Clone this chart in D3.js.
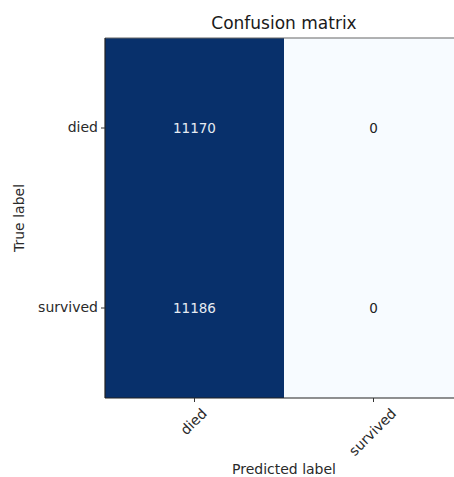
<!DOCTYPE html>
<html>
<head>
<meta charset="utf-8">
<script src="https://cdn.jsdelivr.net/npm/d3@7"></script>
<style>
  body { margin: 0; background: #fff; overflow: hidden; }
  text { font-family: "DejaVu Sans", sans-serif; }
</style>
</head>
<body>
<div id="chart"></div>
<script>
// confusion matrix data
const trueLabels = ["died", "survived"];
const predLabels = ["died", "survived"];
const row_died = [11170, 0];
const row_survived = [11186, 0];

const matrix = [row_died, row_survived];

const margin = { top: 38, left: 105 },
  width = 358,
  height = 360;

const svg = d3.select("#chart")
  .append("svg")
  .attr("width", 454)
  .attr("height", 477);

const g = svg.append("g")
  .attr("transform", `translate(${margin.left},${margin.top})`);

const x = d3.scaleBand().domain(predLabels).range([0, width]);
const y = d3.scaleBand().domain(trueLabels).range([0, height]);

const maxVal = d3.max(matrix.flat());
const color = d3.scaleSequential(d3.interpolateBlues).domain([0, maxVal]);

const cells = [];
trueLabels.forEach((t, i) => {
  predLabels.forEach((p, j) => {
    cells.push({ t: t, p: p, v: matrix[i][j] });
  });
});

g.selectAll(".cell")
  .data(cells)
  .enter()
  .append("rect")
  .attr("class", "cell")
  .attr("x", d => x(d.p))
  .attr("y", d => y(d.t))
  .attr("width", x.bandwidth())
  .attr("height", y.bandwidth())
  .attr("fill", d => d.v === 0 ? "#f7fbff" : (d.v >= maxVal * 0.99 ? "#08306b" : color(d.v)));

g.selectAll(".val")
  .data(cells)
  .enter()
  .append("text")
  .attr("class", "val")
  .attr("x", d => x(d.p) + x.bandwidth() / 2)
  .attr("y", d => y(d.t) + y.bandwidth() / 2)
  .attr("dy", "0.35em")
  .attr("text-anchor", "middle")
  .attr("font-size", "13.5px")
  .attr("fill", d => d.v > maxVal / 2 ? "#e6ebf2" : "#222")
  .text(d => d.v);

// frame
g.append("line")
  .attr("x1", 0).attr("x2", width).attr("y1", 0).attr("y2", 0)
  .attr("stroke", "#666").attr("stroke-width", 1.2);
g.append("line")
  .attr("x1", 0).attr("x2", 0).attr("y1", 0).attr("y2", height)
  .attr("stroke", "#222").attr("stroke-width", 1.2);
g.append("line")
  .attr("x1", 0).attr("x2", width).attr("y1", height).attr("y2", height)
  .attr("stroke", "#222").attr("stroke-width", 1.2);

// axes
const yAxis = g.append("g")
  .call(d3.axisLeft(y).tickSize(4).tickPadding(3));
yAxis.select(".domain").remove();
yAxis.selectAll("line").attr("stroke", "#333");
yAxis.selectAll("text").attr("font-size", "14px").attr("fill", "#2a2a2a")
  .style("font-family", "DejaVu Sans");

const xAxis = g.append("g")
  .attr("transform", `translate(0,${height})`)
  .call(d3.axisBottom(x).tickSize(4).tickPadding(0));
xAxis.select(".domain").remove();
xAxis.selectAll("line").attr("stroke", "#333");
xAxis.selectAll("text")
  .attr("font-size", "14px")
  .attr("fill", "#2a2a2a")
  .style("font-family", "DejaVu Sans")
  .attr("text-anchor", "middle")
  .attr("y", 0)
  .attr("dy", "0.35em")
  .attr("transform", function () {
    const len = this.getComputedTextLength();
    const half = (len + 11) * Math.SQRT1_2 / 2;
    return `translate(-1,${9 + half}) rotate(-45)`;
  });

svg.append("text")
  .attr("x", margin.left + width / 2)
  .attr("y", 29)
  .attr("text-anchor", "middle")
  .attr("font-size", "17px")
  .attr("fill", "#1a1a1a")
  .text("Confusion matrix");

svg.append("text")
  .attr("transform", `translate(24,${margin.top + height / 2}) rotate(-90)`)
  .attr("text-anchor", "middle")
  .attr("font-size", "14px")
  .attr("fill", "#2a2a2a")
  .text("True label");

svg.append("text")
  .attr("x", margin.left + width / 2)
  .attr("y", 474)
  .attr("text-anchor", "middle")
  .attr("font-size", "14px")
  .attr("fill", "#2a2a2a")
  .text("Predicted label");
</script>
</body>
</html>
